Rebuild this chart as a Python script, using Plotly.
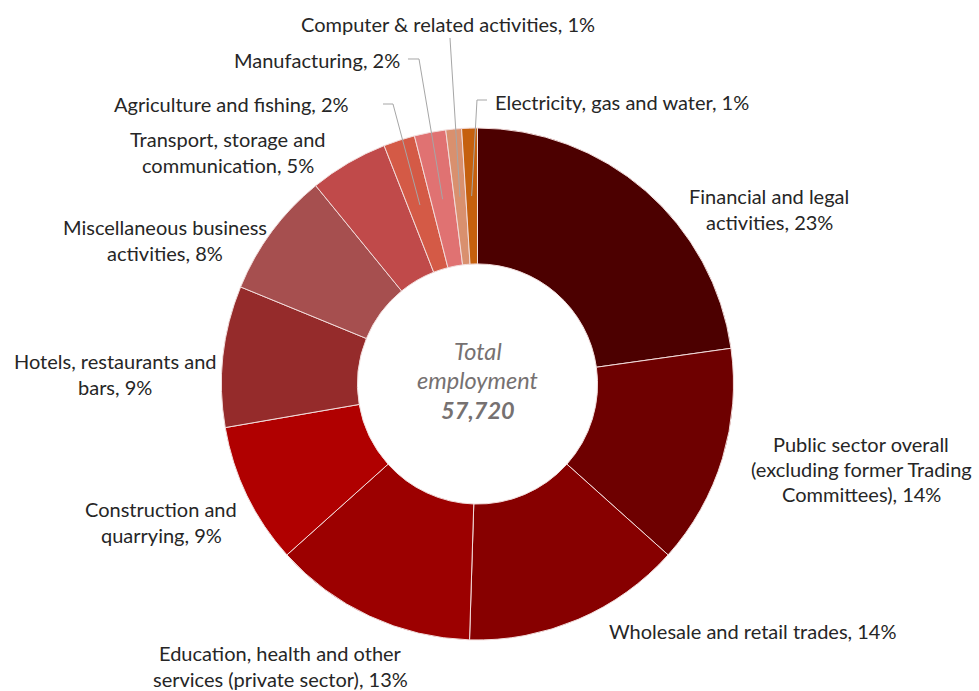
import math
import plotly.graph_objects as go

# Employment by sector (share of total, %), clockwise from 12 o'clock
sectors = [
    "Financial and legal activities",
    "Public sector overall (excluding former Trading Committees)",
    "Wholesale and retail trades",
    "Education, health and other services (private sector)",
    "Construction and quarrying",
    "Hotels, restaurants and bars",
    "Miscellaneous business activities",
    "Transport, storage and communication",
    "Agriculture and fishing",
    "Manufacturing",
    "Computer & related activities",
    "Electricity, gas and water",
]
shares = [23, 14, 14, 13, 9, 9, 8, 5, 2, 2, 1, 1]
total_employment = 57720

# Label text as wrapped lines (sector name, share)
label_lines = [
    ["Financial and legal", "activities, {}%"],
    ["Public sector overall", "(excluding former Trading", "Committees), {}%"],
    ["Wholesale and retail trades, {}%"],
    ["Education, health and other", "services (private sector), {}%"],
    ["Construction and", "quarrying, {}%"],
    ["Hotels, restaurants and", "bars, {}%"],
    ["Miscellaneous business", "activities, {}%"],
    ["Transport, storage and", "communication, {}%"],
    ["Agriculture and fishing, {}%"],
    ["Manufacturing, {}%"],
    ["Computer & related activities, {}%"],
    ["Electricity, gas and water, {}%"],
]

colors = [
    "#4c0000", "#6e0000", "#870000", "#9c0000", "#b00000", "#952b2b",
    "#a64f4f", "#c04a4a", "#d45a46", "#e07272", "#d9906e", "#c5600e",
]

# ---- layout geometry (pixels) ----
W, H = 979, 691
CX, CY, R = 477.5, 384.0, 256.0
HOLE = 0.469
FONT = "Lato"
FONT_SIZE = 20
TEXT_COLOR = "#262626"
LINE_GAP = 25.5

# label block centres (pixels)
label_pos = [
    (769, 209), (861, 469), (752, 631), (280, 666), (161, 522), (115, 374),
    (165, 240), (228, 152), (231, 104), (317, 60), (448, 24), (622, 102),
]

# leader lines for the thin slices: start point and elbow (pixels)
leaders = {
    8: [(383, 104), (393, 104)],
    9: [(408, 59), (419, 59)],
    10: [(450, 38)],
    11: [(487, 100), (477, 100)],
}


def px(x):
    return x / W


def py(y):
    return 1 - y / H


fig = go.Figure()
fig.add_trace(go.Pie(
    labels=sectors,
    values=shares,
    sort=False,
    direction="clockwise",
    rotation=0,
    hole=HOLE,
    textinfo="none",
    marker=dict(colors=colors, line=dict(color="#f2dcdb", width=1)),
    domain=dict(x=[px(CX - R), px(CX + R)], y=[py(CY + R), py(CY - R)]),
    showlegend=False,
))

annotations = []
for lines, share, (lx, ly) in zip(label_lines, shares, label_pos):
    n = len(lines)
    for i, line in enumerate(lines):
        yy = ly + (i - (n - 1) / 2) * LINE_GAP
        annotations.append(dict(
            x=px(lx), y=py(yy), xref="paper", yref="paper",
            text=line.format(share), showarrow=False,
            xanchor="center", yanchor="middle", borderpad=0,
            font=dict(family=FONT, size=FONT_SIZE, color=TEXT_COLOR),
        ))

# centre caption
centre = [("<i>Total</i>", 351), ("<i>employment</i>", 380),
          ("<b><i>{:,}</i></b>".format(total_employment), 410)]
for txt, yy in centre:
    annotations.append(dict(
        x=px(CX), y=py(yy), xref="paper", yref="paper", text=txt,
        showarrow=False, xanchor="center", yanchor="middle",
        font=dict(family=FONT, size=23.5, color="#767171"),
    ))

# leader lines end at the middle of the ring, at each slice's mid-angle
total = sum(shares)
r_mid = R * (1 + HOLE) / 2
shapes = []
cum = 0
for i, s in enumerate(shares):
    mid = (cum + s / 2) / total * 2 * math.pi
    cum += s
    if i not in leaders:
        continue
    ex = CX + r_mid * math.sin(mid)
    ey = CY - r_mid * math.cos(mid)
    pts = leaders[i] + [(ex, ey)]
    path = "M " + " L ".join("{:.5f},{:.5f}".format(px(x), py(y)) for x, y in pts)
    shapes.append(dict(type="path", path=path, xref="paper", yref="paper",
                       line=dict(color="#a6a6a6", width=1)))

fig.update_layout(
    width=W, height=H,
    margin=dict(l=0, r=0, t=0, b=0),
    paper_bgcolor="white",
    plot_bgcolor="white",
    annotations=annotations,
    shapes=shapes,
)

fig.write_html("out.html")
